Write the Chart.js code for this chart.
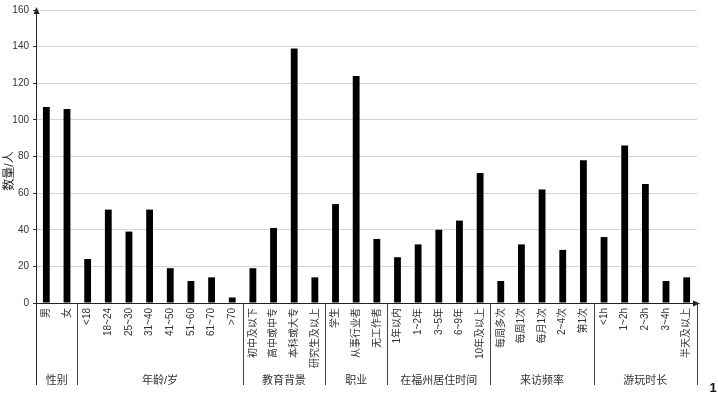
<!DOCTYPE html>
<html>
<head>
<meta charset="utf-8">
<script src="https://cdn.jsdelivr.net/npm/chart.js@4/dist/chart.umd.min.js"></script>
<style>
html,body{margin:0;padding:0;background:#fff;}
#wrap{width:718px;height:401px;position:relative;}
</style>
</head>
<body>
<div id="wrap"><canvas id="c" width="718" height="401"></canvas></div>
<script>
const categories = ['男','女','<18','18~24','25~30','31~40','41~50','51~60','61~70','>70',
  '初中及以下','高中或中专','本科或大专','研究生及以上',
  '学生','从事行业者','无工作者',
  '1年以内','1~2年','3~5年','6~9年','10年及以上',
  '每周多次','每周1次','每月1次','2~4次','第1次',
  '<1h','1~2h','2~3h','3~4h','半天及以上'];
const counts = [107,106,24,51,39,51,19,12,14,3,
  19,41,139,14,
  54,124,35,
  25,32,40,45,71,
  12,32,62,29,78,
  36,86,65,12,14];
const groupNames = ['性别','年龄/岁','教育背景','职业','在福州居住时间','来访频率','游玩时长'];
const groupSizes = [2,8,4,3,5,5,5];
const yTicks = [0,20,40,60,80,100,120,140,160];
const yTitle = '数量/人';
const figNote = '1';

const FONT = '"Liberation Sans", "Noto Sans CJK SC", sans-serif';

const decor = {
  id: 'decor',
  afterDraw(chart) {
    const ctx = chart.ctx;
    const x = chart.scales.x, y = chart.scales.y;
    const ca = chart.chartArea;
    const bottom = 385;
    ctx.save();
    // axes
    ctx.strokeStyle = '#222';
    ctx.lineWidth = 1;
    ctx.beginPath();
    ctx.moveTo(Math.round(ca.left) + 0.5, ca.top - 1);
    ctx.lineTo(Math.round(ca.left) + 0.5, bottom);
    ctx.stroke();
    ctx.beginPath();
    ctx.moveTo(ca.left, Math.round(y.getPixelForValue(0)) + 0.5);
    ctx.lineTo(ca.right, Math.round(y.getPixelForValue(0)) + 0.5);
    ctx.stroke();
    // arrows
    ctx.fillStyle = '#222';
    const ax = Math.round(ca.left) + 0.5;
    ctx.beginPath();
    ctx.moveTo(ax, ca.top - 3);
    ctx.lineTo(ax - 3, ca.top + 4);
    ctx.lineTo(ax + 3, ca.top + 4);
    ctx.closePath();
    ctx.fill();
    const ay = Math.round(y.getPixelForValue(0)) + 0.5;
    ctx.beginPath();
    ctx.moveTo(ca.right + 3, ay);
    ctx.lineTo(ca.right - 4, ay - 3);
    ctx.lineTo(ca.right - 4, ay + 3);
    ctx.closePath();
    ctx.fill();
    // group separators & labels
    const half = (x.getPixelForValue(1) - x.getPixelForValue(0)) / 2;
    let idx = 0;
    ctx.strokeStyle = '#444';
    ctx.fillStyle = '#333';
    ctx.font = '11px ' + FONT;
    ctx.textAlign = 'center';
    ctx.textBaseline = 'middle';
    groupSizes.forEach((n, g) => {
      const start = x.getPixelForValue(idx) - half;
      const end = x.getPixelForValue(idx + n - 1) + half;
      ctx.beginPath();
      ctx.moveTo(Math.round(end) + 0.5, ay);
      ctx.lineTo(Math.round(end) + 0.5, bottom);
      ctx.stroke();
      ctx.fillText(groupNames[g], (start + end) / 2, 381);
      idx += n;
    });
    // y title
    ctx.save();
    ctx.translate(10, 171);
    ctx.rotate(-Math.PI / 2);
    ctx.font = '12px ' + FONT;
    ctx.fillStyle = '#222';
    ctx.fillText(yTitle, 0, 0);
    ctx.restore();
    // figure note
    ctx.font = 'bold 13px ' + FONT;
    ctx.fillStyle = '#111';
    ctx.fillText(figNote, 713, 388);
    ctx.restore();
  }
};

new Chart(document.getElementById('c'), {
  type: 'bar',
  data: {
    labels: categories,
    datasets: [{
      data: counts,
      backgroundColor: '#000',
      borderWidth: 0,
      barPercentage: 0.33,
      categoryPercentage: 1.0
    }]
  },
  options: {
    responsive: false,
    animation: false,
    devicePixelRatio: 1,
    layout: { padding: { top: 9, right: 21, left: 0, bottom: 0 } },
    plugins: { legend: { display: false }, tooltip: { enabled: false } },
    scales: {
      x: {
        offset: true,
        grid: { display: false, drawTicks: false },
        border: { display: false },
        ticks: {
          autoSkip: false, maxRotation: 90, minRotation: 90, padding: 5,
          color: '#333', font: { size: 10, family: FONT }
        },
        afterFit(s) { s.height = 98; }
      },
      y: {
        min: 0, max: 160,
        afterBuildTicks(s) { s.ticks = yTicks.map(v => ({ value: v })); },
        grid: { color: '#d4d4d4', tickColor: '#333', tickLength: 3, drawTicks: true },
        border: { display: false },
        ticks: { padding: 4, color: '#333', font: { size: 10, family: FONT } },
        afterFit(s) { s.width = 36; }
      }
    }
  },
  plugins: [decor]
});
</script>
</body>
</html>
